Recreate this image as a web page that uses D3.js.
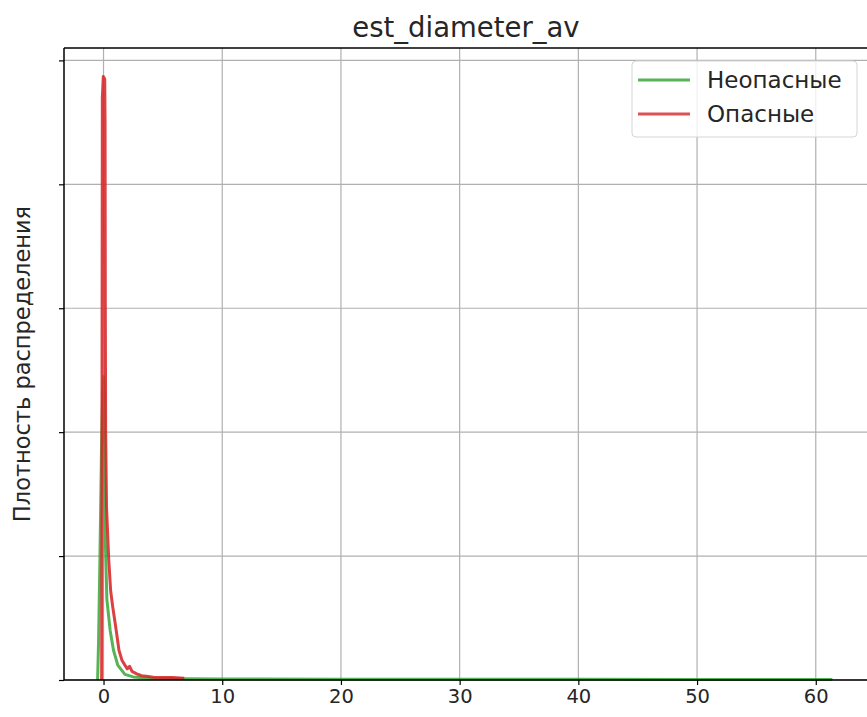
<!DOCTYPE html>
<html>
<head>
<meta charset="utf-8">
<script src="https://cdn.jsdelivr.net/npm/d3@7"></script>
<style>
  html, body { margin: 0; padding: 0; background: #fff; }
  svg { display: block; font-family: "DejaVu Sans", sans-serif; }
</style>
</head>
<body>
<svg id="chart" width="867" height="717"></svg>
<script>
// ---- data ----
const chartTitle = "est_diameter_av";
const yLabel = "Плотность распределения";
const seriesNames = ["Неопасные", "Опасные"];
const seriesColors = ["#2ca02c", "#d62728"];

const xTicks = [0, 10, 20, 30, 40, 50, 60];
const yTicks = [0, 1, 2, 3, 4, 5];

// Non-hazardous (green) density curve
const safeX = [-0.5, -0.42, -0.3, -0.18, -0.08, 0.02, 0.08, 0.12, 0.16, 0.28, 0.56, 0.84, 1.2, 1.8, 2.5, 4, 7, 10, 20, 30, 40, 50, 61.4];
const safeY = [0, 0.3, 1.0, 1.8, 2.3, 2.45, 2.3, 1.7, 1.1, 0.65, 0.4, 0.24, 0.12, 0.045, 0.025, 0.015, 0.01, 0.008, 0.007, 0.006, 0.006, 0.005, 0.005];

// Hazardous (red) density curve
const hazX = [-0.16, -0.14, -0.12, -0.1, -0.02, 0.1, 0.13, 0.15, 0.18, 0.25, 0.44, 0.6, 0.76, 1.07, 1.3, 1.55, 1.8, 2.0, 2.2, 2.4, 2.8, 3.2, 3.6, 4.2, 5.0, 5.8, 6.8];
const hazY = [0, 1.0, 3.0, 4.7, 4.87, 4.85, 4.5, 3.0, 2.0, 1.4, 0.97, 0.72, 0.6, 0.4, 0.24, 0.16, 0.12, 0.09, 0.11, 0.07, 0.05, 0.035, 0.03, 0.022, 0.02, 0.02, 0.015];

// ---- layout ----
const svg = d3.select("#chart");
const L = 64, R = 868, T = 48, B = 680;

const x = d3.scaleLinear().domain([-3.33, 64.4]).range([L, R]);
const y = d3.scaleLinear().domain([0, 5.1]).range([B, T]);

// grid
const grid = svg.append("g");
grid.selectAll("line.gx").data(xTicks).join("line")
  .attr("x1", d => x(d)).attr("x2", d => x(d))
  .attr("y1", T).attr("y2", B)
  .attr("stroke", "#b0b0b0").attr("stroke-width", 1.2);
grid.selectAll("line.gy").data(yTicks).join("line")
  .attr("x1", L).attr("x2", R)
  .attr("y1", d => y(d)).attr("y2", d => y(d))
  .attr("stroke", "#b0b0b0").attr("stroke-width", 1.2);

// lines
const line = d3.line().x(d => x(d[0])).y(d => y(d[1]));
const series = [
  d3.zip(safeX, safeY),
  d3.zip(hazX, hazY)
];
series.forEach((s, i) => {
  svg.append("path")
    .datum(s)
    .attr("d", line)
    .attr("fill", "none")
    .attr("stroke", seriesColors[i])
    .attr("stroke-opacity", i === 1 ? 0.88 : 0.8)
    .attr("stroke-width", 3)
    .attr("stroke-linejoin", "round");
});

// axes
const xAxis = d3.axisBottom(x).tickValues(xTicks).tickSize(5).tickPadding(4).tickFormat(d3.format("d"));
const gx = svg.append("g").attr("transform", `translate(0,${B})`).call(xAxis);
gx.select(".domain").remove();
gx.selectAll(".tick line").attr("stroke", "#000").attr("stroke-width", 1.2);
gx.selectAll(".tick text").attr("font-size", 19.5).attr("fill", "#262626")
  .attr("font-family", "DejaVu Sans");

const yAxis = d3.axisLeft(y).tickValues(yTicks).tickSize(5).tickFormat("");
const gy = svg.append("g").attr("transform", `translate(${L},0)`).call(yAxis);
gy.select(".domain").remove();
gy.selectAll(".tick line").attr("stroke", "#000").attr("stroke-width", 1.2);

// spines (right spine lies just outside the picture)
svg.append("line").attr("x1", L).attr("x2", L).attr("y1", T).attr("y2", B).attr("stroke", "#000").attr("stroke-width", 1.5);
svg.append("line").attr("x1", L).attr("x2", R).attr("y1", B).attr("y2", B).attr("stroke", "#000").attr("stroke-width", 1.5);
svg.append("line").attr("x1", L).attr("x2", R).attr("y1", T).attr("y2", T).attr("stroke", "#000").attr("stroke-width", 1.5);

// title
svg.append("text").attr("x", (L + R) / 2).attr("y", 37)
  .attr("text-anchor", "middle").attr("font-size", 27.5).attr("fill", "#262626")
  .text(chartTitle);

// y label
svg.append("text")
  .attr("transform", `translate(30,${(T + B) / 2}) rotate(-90)`)
  .attr("text-anchor", "middle").attr("font-size", 22.5).attr("fill", "#262626")
  .text(yLabel);

// legend
const lg = svg.append("g");
lg.append("rect").attr("x", 632).attr("y", 61).attr("width", 225).attr("height", 76)
  .attr("rx", 4).attr("fill", "#fff").attr("fill-opacity", 0.8)
  .attr("stroke", "#d5d5d5").attr("stroke-width", 1);
seriesNames.forEach((n, i) => {
  const cy = 80 + i * 34;
  lg.append("line").attr("x1", 638).attr("x2", 690).attr("y1", cy).attr("y2", cy)
    .attr("stroke", seriesColors[i]).attr("stroke-opacity", 0.8).attr("stroke-width", 3);
  lg.append("text").attr("x", 707).attr("y", cy + 8)
    .attr("font-size", 23).attr("fill", "#262626").text(n);
});
</script>
</body>
</html>
